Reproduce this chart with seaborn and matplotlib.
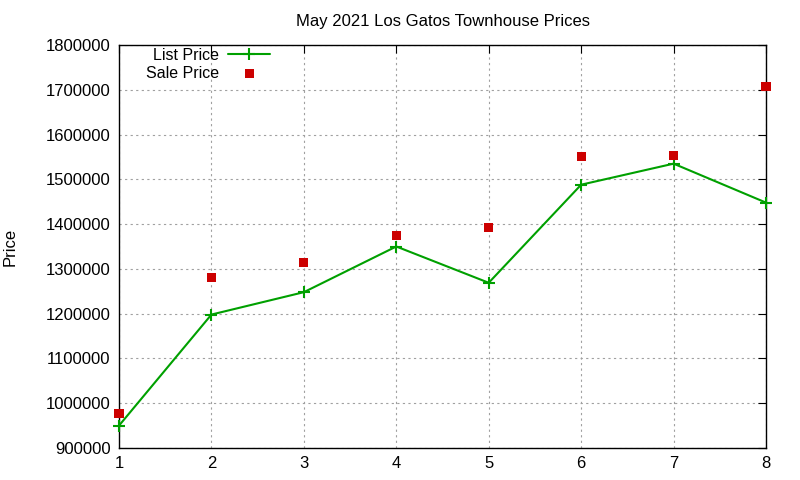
import matplotlib
matplotlib.use('Agg')
import matplotlib.pyplot as plt
import seaborn as sns
import pandas as pd

# values
house = [1, 2, 3, 4, 5, 6, 7, 8]
list_price = [950000, 1198000, 1248000, 1350000, 1269000, 1488000, 1535000, 1448000]
sale_price = [976000, 1281000, 1314000, 1375000, 1392000, 1550000, 1553000, 1708000]
y_ticks = [900000, 1000000, 1100000, 1200000, 1300000, 1400000, 1500000,
           1600000, 1700000, 1800000]

df = pd.DataFrame({'house': house, 'list': list_price, 'sale': sale_price})

sns.set_style('white', {'text.color': 'black', 'xtick.color': 'black',
                        'ytick.color': 'black', 'axes.labelcolor': 'black'})
plt.rcParams['font.family'] = ['Liberation Sans', 'DejaVu Sans']
plt.rcParams['font.size'] = 12

fig = plt.figure(figsize=(8, 4.8), dpi=100)
ax = fig.add_axes([119 / 800, 1 - 448 / 480, (766 - 119) / 800, (448 - 45) / 480])

green = '#00a000'
red = '#cc0000'

sns.lineplot(data=df, x='house', y='list', ax=ax, color=green, linewidth=1.5,
             marker='+', markersize=8, markeredgewidth=1.5, markeredgecolor=green,
             label='List Price', clip_on=False, zorder=3)
sns.scatterplot(data=df, x='house', y='sale', ax=ax, color=red, marker='s',
                s=42, edgecolor='none', label='Sale Price', zorder=4, clip_on=False)

ax.set_xlim(1, 8)
ax.set_ylim(900000, 1800000)
ax.set_xticks(house)
ax.set_yticks(y_ticks)
ax.ticklabel_format(axis='y', style='plain', useOffset=False)
ax.grid(True, linestyle=(0, (2, 3)), color='#a0a0a0', linewidth=0.8)
ax.tick_params(direction='in', length=6, top=True, right=True, labelsize=12, pad=6)
for sp in ax.spines.values():
    sp.set_color('black')
    sp.set_linewidth(1)

ax.set_xlabel('')
ax.set_ylabel('Price', fontsize=12, labelpad=20)
ax.set_title('May 2021 Los Gatos Townhouse Prices', fontsize=12, pad=14)

ax.legend(loc='upper right', bbox_to_anchor=((270 - 119) / 647, (448 - 48) / 403),
          markerfirst=False, frameon=False, fontsize=11.5, handlelength=2.6,
          borderaxespad=0, borderpad=0, labelspacing=0.18, handletextpad=0.6)

fig.savefig('out.png', dpi=100)
